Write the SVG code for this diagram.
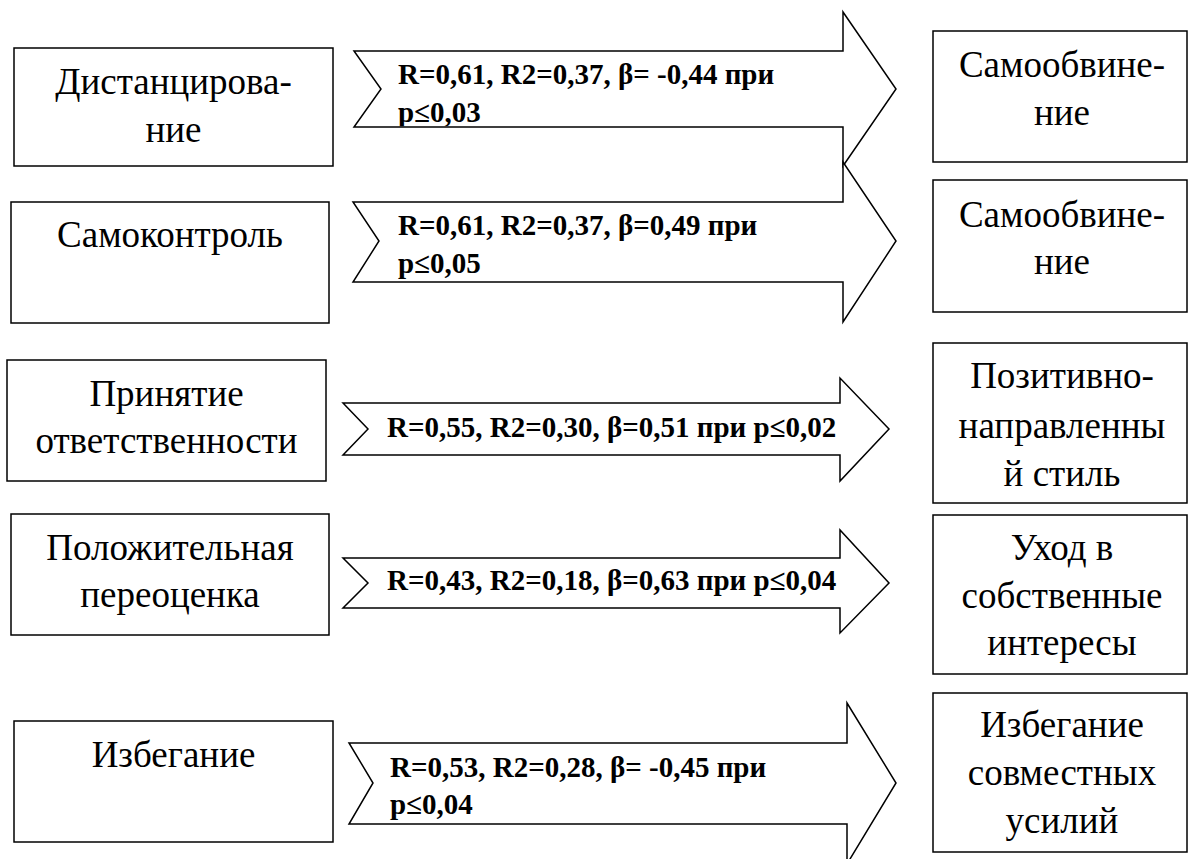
<svg xmlns="http://www.w3.org/2000/svg" width="1188" height="859" viewBox="0 0 1188 859">
<style>
  .box { fill: #fff; stroke: #000; stroke-width: 1.5; }
  .arrow { fill: #fff; stroke: #000; stroke-width: 1.5; stroke-linejoin: miter; }
  .node { font-family: "Liberation Serif", "Times New Roman", serif; font-size: 37px; fill: #000; text-anchor: middle; }
  .lbl { font-family: "Liberation Serif", "Times New Roman", serif; font-size: 29px; font-weight: bold; fill: #000; }
</style>
<defs>
  <clipPath id="clip1"><rect x="354" y="51.8" width="489" height="74.4"/></clipPath>
</defs>
<rect width="1188" height="859" fill="#fff"/>

<g id="connectors">
  <g id="arrow1">
    <polygon class="arrow" points="354,51 843,51 843,12 896,89 843,166 843,127 354,127 381,89"/>
    <g clip-path="url(#clip1)">
      <text class="lbl" x="398" y="84">R=0,61, R2=0,37, β= -0,44 при</text>
      <text class="lbl" x="398" y="122">p≤0,03</text>
    </g>
  </g>
  <g id="arrow2">
    <polygon class="arrow" points="353,202 843,202 843,162 896,241 843,322 843,282 353,282 379,241"/>
    <text class="lbl" x="398" y="235">R=0,61, R2=0,37, β=0,49 при</text>
    <text class="lbl" x="398" y="273">p≤0,05</text>
  </g>
  <g id="arrow3">
    <polygon class="arrow" points="343,403 840,403 840,378 889,429 840,481 840,455 343,455 368,429"/>
    <text class="lbl" x="387" y="437">R=0,55, R2=0,30, β=0,51 при p≤0,02</text>
  </g>
  <g id="arrow4">
    <polygon class="arrow" points="343,558 840,558 840,530 889,583 840,633 840,608 343,608 368,583"/>
    <text class="lbl" x="387" y="590">R=0,43, R2=0,18, β=0,63 при p≤0,04</text>
  </g>
  <g id="arrow5">
    <polygon class="arrow" points="349,743 847,743 847,703 896,783 847,864 847,824 349,824 373,783"/>
    <text class="lbl" x="390" y="777">R=0,53, R2=0,28, β= -0,45 при</text>
    <text class="lbl" x="390" y="814">p≤0,04</text>
  </g>
</g>

<g id="node-distancing">
  <rect class="box" x="14" y="48" width="319" height="118"/>
  <text class="node" x="173.5" y="94">Дистанцирова-</text>
  <text class="node" x="173.5" y="142">ние</text>
</g>
<g id="node-selfcontrol">
  <rect class="box" x="11" y="202" width="318" height="121"/>
  <text class="node" x="170" y="247">Самоконтроль</text>
</g>
<g id="node-responsibility">
  <rect class="box" x="7" y="360" width="319" height="121"/>
  <text class="node" x="166.5" y="406">Принятие</text>
  <text class="node" x="166.5" y="453">ответственности</text>
</g>
<g id="node-reappraisal">
  <rect class="box" x="11" y="514" width="318" height="121"/>
  <text class="node" x="170" y="560">Положительная</text>
  <text class="node" x="170" y="607">переоценка</text>
</g>
<g id="node-avoidance">
  <rect class="box" x="14" y="721" width="319" height="121"/>
  <text class="node" x="173.5" y="767">Избегание</text>
</g>

<g id="node-selfblame1">
  <rect class="box" x="933" y="31" width="254" height="131"/>
  <text class="node" x="1062" y="77">Самообвине-</text>
  <text class="node" x="1062" y="125">ние</text>
</g>
<g id="node-selfblame2">
  <rect class="box" x="933" y="180" width="254" height="132"/>
  <text class="node" x="1062" y="227">Самообвине-</text>
  <text class="node" x="1062" y="274">ние</text>
</g>
<g id="node-positive">
  <rect class="box" x="933" y="343" width="254" height="160"/>
  <text class="node" x="1062" y="388">Позитивно-</text>
  <text class="node" x="1062" y="438">направленны</text>
  <text class="node" x="1062" y="486">й стиль</text>
</g>
<g id="node-interests">
  <rect class="box" x="933" y="515" width="254" height="159"/>
  <text class="node" x="1062" y="560">Уход в</text>
  <text class="node" x="1062" y="608">собственные</text>
  <text class="node" x="1062" y="655">интересы</text>
</g>
<g id="node-joint">
  <rect class="box" x="933" y="693" width="254" height="159"/>
  <text class="node" x="1062" y="737">Избегание</text>
  <text class="node" x="1062" y="785">совместных</text>
  <text class="node" x="1062" y="833">усилий</text>
</g>
</svg>
